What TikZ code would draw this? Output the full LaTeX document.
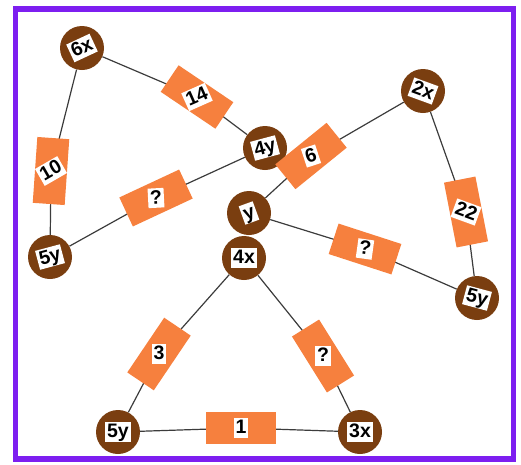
\documentclass[tikz,border=0pt]{standalone}
\usepackage{fontspec}
\setmainfont{Liberation Sans}
\usetikzlibrary{backgrounds}
\definecolor{brn}{RGB}{122,62,16}
\definecolor{org}{RGB}{246,128,62}
\definecolor{prp}{RGB}{125,30,240}
\definecolor{wirec}{RGB}{60,60,60}
\begin{document}
\begin{tikzpicture}[x=1pt,y=-1pt,
  vtx/.style={circle,fill=brn,minimum size=44pt,inner sep=0pt},
  res/.style={rectangle,fill=org,minimum width=66pt,minimum height=32pt,inner sep=0pt},
  lbl/.style={fill=white,inner xsep=2pt,inner ysep=1.5pt,font=\bfseries\fontsize{19.5}{19.5}\selectfont,text height=14pt,text depth=2.5pt},
  wire/.style={draw=wirec,line width=1.2pt}]
\useasboundingbox (0,0) rectangle (521,464);
% frame
\draw[prp,line width=5.5pt] (15.5,9) rectangle (513.5,459);
% vertices
\node[vtx] (v6x) at (82,48) {};
\node[vtx] (v2x) at (423,91) {};
\node[vtx] (v4y) at (265,148) {};
\node[vtx] (vy) at (249,213) {};
\node[vtx] (v4x) at (244,258) {};
\node[vtx] (v5yl) at (50,257) {};
\node[vtx] (v5yr) at (477,298) {};
\node[vtx] (v5yb) at (118,432) {};
\node[vtx] (v3x) at (360,432) {};
\node[lbl,rotate=25] (l6x) at (v6x) {6x};
\node[lbl,rotate=-20] (l2x) at (v2x) {2x};
\node[lbl,rotate=15] (l4y) at (v4y) {4y};
\node[lbl,rotate=20] (ly) at (vy) {y};
\node[lbl] (l4x) at (v4x) {4x};
\node[lbl,rotate=15] (l5yl) at (v5yl) {5y};
\node[lbl,rotate=-15] (l5yr) at (v5yr) {5y};
\node[lbl] (l5yb) at (v5yb) {5y};
\node[lbl] (l3x) at (v3x) {3x};
% resistors
\node[res,rotate=-34] (r14) at (197,97) {};
\node[lbl,rotate=24] (t14) at (r14) {14};
\node[res,rotate=86] (r10) at (51,171) {};
\node[lbl,rotate=30] (t10) at (r10) {10};
\node[res,rotate=25] (rqa) at (156,198) {};
\node[lbl,rotate=3] (tqa) at (rqa) {?};
\node[res,rotate=39] (r6) at (311,156) {};
\node[lbl,rotate=18] (t6) at (r6) {6};
\node[res,rotate=-79] (r22) at (466,212) {};
\node[lbl,rotate=-20] (t22) at (r22) {22};
\node[res,rotate=-18] (rqb) at (365,249) {};
\node[lbl,rotate=-8] (tqb) at (rqb) {?};
\node[res,rotate=56] (r3) at (159,354) {};
\node[lbl] (t3) at (r3) {3};
\node[res,rotate=-58] (rqc) at (323,356) {};
\node[lbl] (tqc) at (rqc) {?};
\node[res,minimum width=70pt] (r1) at (241,428) {};
\node[lbl] (t1) at (r1) {1};
% wires
\begin{scope}[on background layer]
\draw[wire] (v6x) -- (r14.center) -- (v4y);
\draw[wire] (v6x) -- (r10.center) -- (v5yl);
\draw[wire] (v4y) -- (rqa.center) -- (v5yl);
\draw[wire] (v2x) -- (r6.center) -- (vy);
\draw[wire] (v2x) -- (r22.center) -- (v5yr);
\draw[wire] (vy) -- (rqb.center) -- (v5yr);
\draw[wire] (v4x) -- (r3.center) -- (v5yb);
\draw[wire] (v4x) -- (rqc.center) -- (v3x);
\draw[wire] (v5yb) -- (r1.center) -- (v3x);
\end{scope}
\end{tikzpicture}
\end{document}
